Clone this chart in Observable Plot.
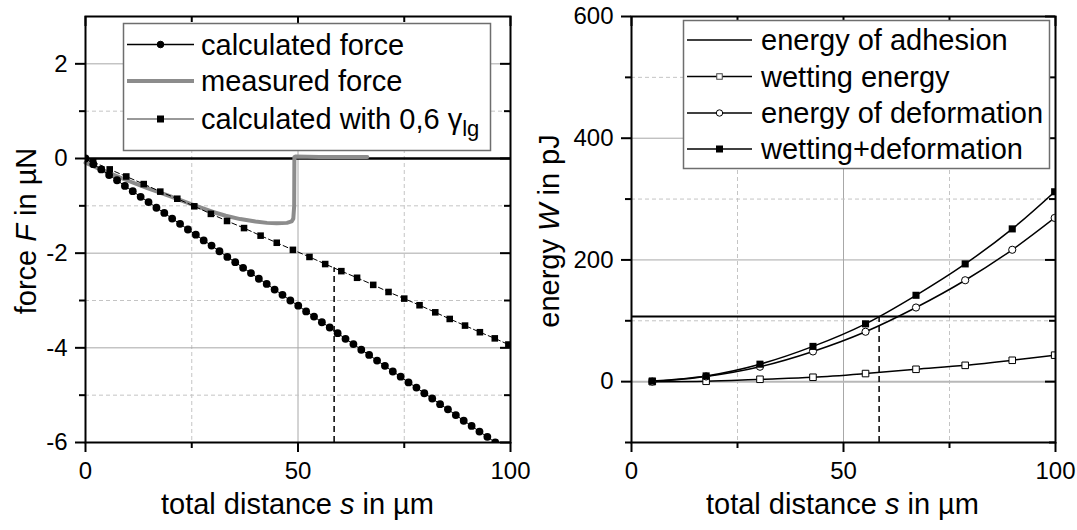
<!DOCTYPE html>
<html><head><meta charset="utf-8">
<script src="https://cdn.jsdelivr.net/npm/d3@7"></script>
<script src="https://cdn.jsdelivr.net/npm/@observablehq/plot@0.6"></script>
<style>
body{margin:0;background:#fff;}
#wrap{display:flex;width:1077px;height:530px;overflow:hidden;}
</style></head><body><div id="wrap"></div>
<script>
// ---------- LEFT PANEL DATA (force) ----------
const calcS = [0,1.85,3.71,5.56,7.42,9.27,11.12,12.98,14.83,16.69,18.54,20.39,22.25,24.10,25.96,27.81,29.66,31.52,33.37,35.23,37.08,38.93,40.79,42.64,44.50,46.35,48.20,50.06,51.91,53.77,55.62,57.47,59.33,61.18,63.04,64.89,66.74,68.60,70.45,72.31,74.16,76.01,77.87,79.72,81.58,83.43,85.28,87.14,88.99,90.85,92.70,94.55,96.41];
const calcF = [0,-0.12,-0.23,-0.35,-0.46,-0.58,-0.69,-0.81,-0.92,-1.04,-1.15,-1.27,-1.38,-1.50,-1.61,-1.73,-1.84,-1.96,-2.08,-2.19,-2.31,-2.42,-2.54,-2.65,-2.77,-2.88,-3.00,-3.11,-3.23,-3.34,-3.46,-3.57,-3.69,-3.81,-3.92,-4.04,-4.15,-4.27,-4.38,-4.50,-4.61,-4.73,-4.84,-4.96,-5.07,-5.19,-5.30,-5.42,-5.54,-5.65,-5.77,-5.88,-6.00];
const reducedS = [1.8,5.7,9.6,13.7,17.6,21.6,25.6,29.5,33.3,37.3,41.2,45.0,48.8,52.7,56.4,60.2,63.9,67.7,71.3,75.0,78.6,82.3,85.7,89.3,92.8,96.3,99.5];
const reducedF = [-0.07,-0.23,-0.38,-0.54,-0.70,-0.85,-1.01,-1.17,-1.32,-1.47,-1.63,-1.78,-1.93,-2.08,-2.23,-2.38,-2.52,-2.67,-2.82,-2.96,-3.10,-3.25,-3.39,-3.53,-3.67,-3.80,-3.93];
const measS = [0,3,6.5,10,14.4,20,25,30,33,36.4,40,42.7,45,47.4,48.5,48.9,49.1,49.15,49.4,55,66.3];
const measF = [-0.09,-0.21,-0.34,-0.47,-0.62,-0.80,-0.97,-1.13,-1.21,-1.28,-1.33,-1.36,-1.37,-1.36,-1.33,-1.27,-1.0,0.03,0.04,0.03,0.03];
const forceDomain = [-6, 3];
const forceCritS = 58.5, forceCritF = -2.31;
const forceYMajor = [2,0,-2,-4,-6], forceYMinor = [1,-1,-3,-5];

// ---------- RIGHT PANEL DATA (energy) ----------
const energyS = [4.9,17.6,30.3,42.8,55.2,67.1,78.7,89.8,99.8];
const wettingW = [0,0.6,3.9,7.2,13.3,20.3,26.8,35.1,43.5];
const deformW = [0,8.5,24.5,49.6,82.0,121.8,166.6,216.7,269];
const combinedW = [1,9.4,28.7,57.9,95.0,141.9,193.5,251,312];
const adhesionW = 107;
const energyDomain = [-100, 600];
const energyCritS = 58.4;
const energyYMajor = [0,200,400,600], energyYMinor = [-100,100,300,500];

const xDomain = [0, 100];
const xMajor = [0,50,100], xMinor = [25,75];

const FONT = '"Liberation Sans", Arial, Helvetica, sans-serif';
const zip = (a, b) => a.map((v, i) => ({s: v, v: b[i]}));

const HEIGHT = 530, MT = 16, MB = 88;
const PH = HEIGHT - MT - MB;

// frame tick marks: outward on left/bottom, inward on top/right
function frameTicks(PW, yMaj, yMin) {
  const o = {stroke: "black", strokeWidth: 2};
  const out = [];
  [[xMajor, 10], [xMinor, 6]].forEach(([vals, len]) => {
    out.push(Plot.ruleX(vals, {...o, insetTop: PH, insetBottom: -len}));
    out.push(Plot.ruleX(vals, {...o, insetBottom: PH - len}));
  });
  [[yMaj, 10], [yMin, 6]].forEach(([vals, len]) => {
    out.push(Plot.ruleY(vals, {...o, insetLeft: -len, insetRight: PW}));
    out.push(Plot.ruleY(vals, {...o, insetLeft: PW - len}));
  });
  return out;
}
function axes(yMaj) {
  return [
    Plot.axisX(xMajor, {anchor: "bottom", tickSize: 0, tickPadding: 19, fontSize: 24, label: null, tickFormat: d => String(d)}),
    Plot.axisY(yMaj, {anchor: "left", tickSize: 0, tickPadding: 18, fontSize: 24, label: null, tickFormat: d => String(d)})
  ];
}
const dashedGrid = {stroke: "#c4c4c4", strokeOpacity: 1, strokeDasharray: "4,3"};
const solidGrid = {stroke: "#a8a8a8", strokeOpacity: 1};
const style = {fontFamily: FONT, fontSize: "24px", color: "black", background: "white", overflow: "visible"};

// ---------- LEFT PLOT ----------
const calc = zip(calcS, calcF);
const reduced = zip(reducedS, reducedF);
const reducedLine = [{s: 0, v: 0}, ...reduced];
const meas = zip(measS, measF);
const LW = 540, LML = 85, LMR = 30;

const left = Plot.plot({
  width: LW, height: HEIGHT, marginLeft: LML, marginRight: LMR, marginTop: MT, marginBottom: MB,
  style,
  x: {domain: xDomain}, y: {domain: forceDomain},
  marks: [
    Plot.gridX(xMinor, dashedGrid),
    Plot.gridX([50], solidGrid),
    Plot.gridY(forceYMinor, dashedGrid),
    Plot.gridY([2, -2, -4], solidGrid),
    Plot.ruleY([0], {stroke: "black", strokeWidth: 2.5}),
    Plot.line(meas, {x: "s", y: "v", stroke: "#8c8c8c", strokeWidth: 4, strokeLinejoin: "round"}),
    Plot.line(reducedLine, {x: "s", y: "v", stroke: "black", strokeWidth: 1, strokeDasharray: "5,3", clip: true}),
    Plot.line(calc, {x: "s", y: "v", stroke: "black", strokeWidth: 1, clip: true}),
    Plot.dot(calc, {x: "s", y: "v", r: 3.9, fill: "black", stroke: "none", clip: true}),
    Plot.dot(reduced, {x: "s", y: "v", symbol: "square", r: 3.7, fill: "black", stroke: "none", clip: true}),
    Plot.ruleX([forceCritS], {y1: forceDomain[0], y2: forceCritF, stroke: "black", strokeWidth: 1.5, strokeDasharray: "6,4"}),
    Plot.frame({stroke: "black", strokeWidth: 2}),
    ...frameTicks(LW - LML - LMR, forceYMajor, forceYMinor),
    ...axes(forceYMajor)
  ]
});

// ---------- RIGHT PLOT ----------
const wet = zip(energyS, wettingW);
const def = zip(energyS, deformW);
const comb = zip(energyS, combinedW);
const RW = 537, RML = 91, RMR = 22;

const right = Plot.plot({
  width: RW, height: HEIGHT, marginLeft: RML, marginRight: RMR, marginTop: MT, marginBottom: MB,
  style,
  x: {domain: xDomain}, y: {domain: energyDomain},
  marks: [
    Plot.gridX(xMinor, dashedGrid),
    Plot.gridX([50], solidGrid),
    Plot.gridY(energyYMinor.filter(d => d > energyDomain[0]), dashedGrid),
    Plot.gridY([200, 400], solidGrid),
    Plot.ruleY([0], {stroke: "#b8b8b8", strokeWidth: 2}),
    Plot.ruleY([adhesionW], {stroke: "black", strokeWidth: 2}),
    Plot.ruleX([energyCritS], {y1: energyDomain[0], y2: adhesionW, stroke: "black", strokeWidth: 1.5, strokeDasharray: "6,4"}),
    Plot.line(wet, {x: "s", y: "v", curve: "catmull-rom", stroke: "black", strokeWidth: 1.5, clip: true}),
    Plot.line(def, {x: "s", y: "v", curve: "catmull-rom", stroke: "black", strokeWidth: 1.5, clip: true}),
    Plot.line(comb, {x: "s", y: "v", curve: "catmull-rom", stroke: "black", strokeWidth: 1.5, clip: true}),
    Plot.dot(wet, {x: "s", y: "v", symbol: "square", r: 3.7, fill: "white", stroke: "black", strokeWidth: 1, clip: true}),
    Plot.dot(def, {x: "s", y: "v", r: 3.6, fill: "white", stroke: "black", strokeWidth: 1, clip: true}),
    Plot.dot(comb, {x: "s", y: "v", symbol: "square", r: 4, fill: "black", stroke: "none", clip: true}),
    Plot.frame({stroke: "black", strokeWidth: 2}),
    ...frameTicks(RW - RML - RMR, energyYMajor, energyYMinor),
    ...axes(energyYMajor)
  ]
});

const wrap = document.getElementById("wrap");
wrap.appendChild(left);
wrap.appendChild(right);

// ---------- titles and legends ----------
function title(svg, parts, attrs) {
  const t = d3.select(svg).append("text")
    .attr("font-family", FONT).attr("font-size", 29).attr("fill", "black")
    .attr("text-anchor", "middle");
  for (const [k, v] of Object.entries(attrs)) t.attr(k, v);
  parts.forEach(([txt, it]) => t.append("tspan").attr("font-style", it ? "italic" : null).text(txt));
  return t;
}
title(left, [["force ", 0], ["F", 1], [" in µN", 0]], {transform: "translate(36,231) rotate(-90)"});
title(left, [["total distance ", 0], ["s", 1], [" in µm", 0]], {x: 297.5, y: 514});
title(right, [["energy ", 0], ["W", 1], [" in pJ", 0]], {transform: "translate(19,231) rotate(-90)"});
title(right, [["total distance ", 0], ["s", 1], [" in µm", 0]], {x: 302.5, y: 514});

function legend(svg, box, rows) {
  const g = d3.select(svg).append("g");
  g.append("rect").attr("x", box.x).attr("y", box.y).attr("width", box.w).attr("height", box.h)
    .attr("fill", "white").attr("stroke", "#6e6e6e").attr("stroke-width", 1.5);
  rows.forEach(r => {
    g.append("line").attr("x1", box.lx1).attr("x2", box.lx2).attr("y1", r.y).attr("y2", r.y)
      .attr("stroke", r.stroke || "black").attr("stroke-width", r.sw || 1.3);
    const cx = (box.lx1 + box.lx2) / 2;
    if (r.marker === "dot") g.append("circle").attr("cx", cx).attr("cy", r.y).attr("r", r.mr || 3.3).attr("fill", r.mfill || "black").attr("stroke", "black");
    if (r.marker === "square") g.append("rect").attr("x", cx - r.ms / 2).attr("y", r.y - r.ms / 2).attr("width", r.ms).attr("height", r.ms).attr("fill", r.mfill || "black").attr("stroke", r.mstroke || "black");
    const t = g.append("text").attr("x", box.tx).attr("y", r.y + 10).attr("text-anchor", "start")
      .attr("font-family", FONT).attr("font-size", 29).attr("fill", "black");
    r.text.forEach(([txt, kind]) => {
      const sp = t.append("tspan").text(txt);
      if (kind === "sub") sp.attr("font-size", 22).attr("dy", 7);
    });
  });
}
legend(left, {x: 123.5, y: 23.5, w: 367, h: 127, lx1: 127, lx2: 194, tx: 201}, [
  {y: 44.5, marker: "dot", mr: 3.3, text: [["calculated force"]]},
  {y: 81, stroke: "#8c8c8c", sw: 4, text: [["measured force"]]},
  {y: 119, stroke: "#777", sw: 1.3, marker: "square", ms: 6, text: [["calculated with 0,6 γ"], ["lg", "sub"]]}
]);
legend(right, {x: 143.5, y: 20.5, w: 366, h: 148, lx1: 147, lx2: 212, tx: 221}, [
  {y: 40, text: [["energy of adhesion"]]},
  {y: 76.5, marker: "square", ms: 5.5, mfill: "white", mstroke: "#444", text: [["wetting energy"]]},
  {y: 113, marker: "dot", mr: 3.2, mfill: "white", text: [["energy of deformation"]]},
  {y: 149, marker: "square", ms: 6, text: [["wetting+deformation"]]}
]);
</script>
</body></html>
